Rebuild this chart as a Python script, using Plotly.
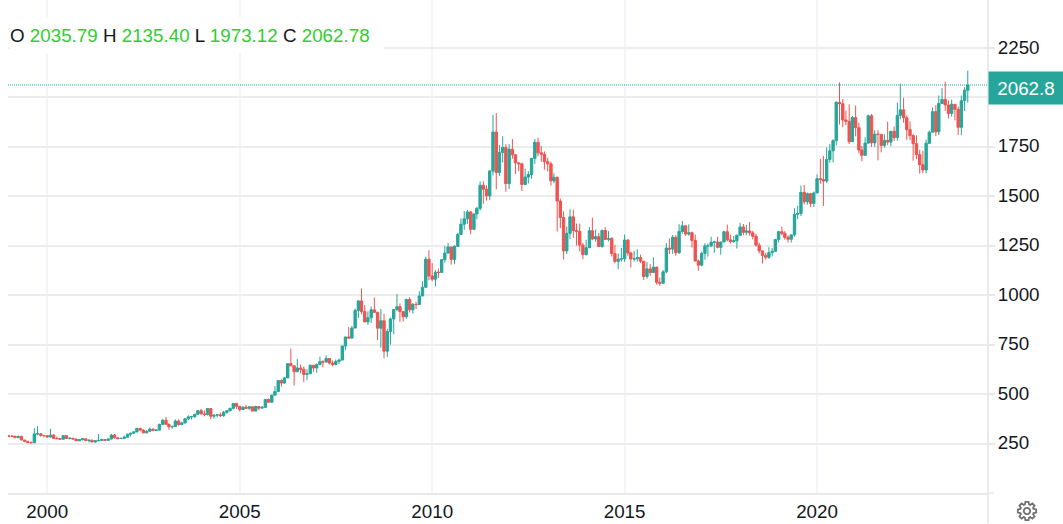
import math
import pandas as pd
import plotly.graph_objects as go

closes = [
287,287,280,286,268,261,255,254,299,299,291,290,
283,293,276,275,272,290,276,277,273,264,269,274,
265,267,258,264,266,270,266,273,293,279,275,276,
282,297,302,309,327,318,304,312,323,317,318,347,
368,347,335,336,364,346,354,375,385,386,398,416,
400,397,427,388,394,395,391,408,416,428,453,438,
422,434,428,436,414,437,429,433,473,459,495,513,
569,556,582,654,643,613,632,625,599,603,646,632,
650,664,662,680,657,650,665,672,743,789,783,834,
923,971,917,865,886,926,913,833,871,717,816,880,
927,942,917,891,978,926,954,953,996,1040,1182,1097,
1081,1116,1115,1180,1213,1244,1181,1247,1307,1359,1386,1421,
1333,1411,1439,1556,1536,1502,1628,1825,1620,1722,1747,1564,
1738,1710,1669,1664,1560,1597,1610,1692,1773,1720,1713,1675,
1664,1578,1596,1476,1393,1224,1313,1396,1327,1323,1253,1205,
1240,1326,1284,1296,1246,1327,1282,1287,1210,1171,1182,1184,
1279,1213,1183,1184,1190,1172,1095,1133,1115,1142,1065,1060,
1118,1238,1233,1293,1215,1322,1351,1309,1316,1277,1173,1152,
1211,1249,1249,1268,1269,1242,1269,1321,1280,1271,1275,1303,
1345,1318,1325,1315,1298,1253,1224,1201,1192,1215,1222,1282,
1321,1313,1292,1283,1305,1409,1413,1520,1472,1513,1464,1517,
1589,1585,1577,1686,1730,1781,1975,1968,1886,1879,1776,1898,
1847,1734,1707,1769,1907,1770,1814,1813,1757,1783,1774,1829,
1797,1909,1937,1897,1837,1807,1766,1711,1660,1633,1768,1824,
1928,1826,1969,1990,1962,1919,1965,1940,1849,1983,2036,2062.78,
]
opens = [
288,287,287,280,286,268,261,255,254,299,299,291,
290,283,293,276,275,272,290,276,277,273,264,269,
274,265,267,258,264,266,270,266,273,293,279,275,
276,282,297,302,309,327,318,304,312,323,317,318,
347,368,347,335,336,364,346,354,375,385,386,398,
416,400,397,427,388,394,395,391,408,416,428,453,
438,422,434,428,436,414,437,429,433,473,459,495,
513,569,556,582,654,643,613,632,625,599,603,646,
632,650,664,662,680,657,650,665,672,743,789,783,
834,923,971,917,865,886,926,913,833,871,717,816,
880,927,942,917,891,978,926,954,953,996,1040,1182,
1097,1081,1116,1115,1180,1213,1244,1181,1247,1307,1359,1386,
1421,1333,1411,1439,1556,1536,1502,1628,1825,1620,1722,1747,
1564,1738,1710,1669,1664,1560,1597,1610,1692,1773,1720,1713,
1675,1664,1578,1596,1476,1393,1224,1313,1396,1327,1323,1253,
1205,1240,1326,1284,1296,1246,1327,1282,1287,1210,1171,1182,
1184,1279,1213,1183,1184,1190,1172,1095,1133,1115,1142,1065,
1060,1118,1238,1233,1293,1215,1322,1351,1309,1316,1277,1173,
1152,1211,1249,1249,1268,1269,1242,1269,1321,1280,1271,1275,
1303,1345,1318,1325,1315,1298,1253,1224,1201,1192,1215,1222,
1282,1321,1313,1292,1283,1305,1409,1413,1520,1472,1513,1464,
1517,1589,1585,1577,1686,1730,1781,1975,1968,1886,1879,1776,
1898,1847,1734,1707,1769,1907,1770,1814,1813,1757,1783,1774,
1829,1797,1909,1937,1897,1837,1807,1766,1711,1660,1633,1768,
1824,1928,1826,1969,1990,1962,1919,1965,1940,1849,1983,2035.79,
]
highs = [
293,291,289,291,290,268,263,260,328,338,303,293,
292,325,296,286,277,293,292,279,278,274,271,276,
274,270,270,266,298,275,273,276,299,298,282,280,
290,300,304,312,327,329,322,318,331,326,323,350,
372,385,352,341,372,372,360,380,393,390,400,417,
425,417,430,427,395,399,407,415,419,431,455,456,
428,438,445,438,436,441,435,440,473,478,496,540,
570,574,585,655,730,633,677,650,640,625,650,640,
655,690,672,696,683,670,675,680,745,790,840,845,
932,975,1033,950,918,943,988,917,930,905,830,887,
930,1005,958,920,983,990,960,967,1019,1070,1195,1227,
1162,1127,1135,1180,1249,1265,1245,1253,1315,1388,1425,1431,
1425,1412,1447,1575,1576,1555,1632,1912,1921,1760,1804,1764,
1764,1790,1712,1670,1670,1640,1627,1693,1790,1796,1755,1727,
1695,1675,1616,1600,1488,1424,1347,1434,1433,1362,1362,1265,
1280,1345,1392,1332,1315,1332,1345,1324,1293,1255,1211,1239,
1307,1282,1220,1224,1232,1205,1173,1169,1157,1191,1144,1089,
1127,1263,1287,1304,1304,1359,1375,1352,1358,1322,1306,1180,
1220,1263,1261,1295,1275,1296,1270,1326,1357,1306,1299,1307,
1366,1360,1355,1370,1326,1310,1266,1220,1214,1243,1239,1284,
1326,1347,1324,1303,1306,1439,1452,1555,1557,1519,1517,1524,
1611,1689,1704,1747,1765,1789,1981,2075,1992,1933,1965,1906,
1959,1872,1755,1798,1913,1916,1834,1834,1808,1814,1877,1830,
1853,1974,2070,1998,1909,1879,1814,1808,1735,1730,1786,1833,
1949,1960,2010,2048,2079,1984,1988,1949,1953,2009,2052,2135.40,
]
lows = [
283,283,277,278,267,257,253,251,253,292,285,282,
280,282,276,272,270,272,274,271,271,263,262,267,
262,255,256,254,262,265,264,265,270,275,272,273,
275,280,286,299,307,312,302,302,312,312,312,317,
342,345,320,325,336,340,342,352,369,372,379,396,
399,388,392,372,375,382,385,385,400,412,422,425,
412,420,425,420,414,414,419,430,431,456,456,490,
512,538,552,582,640,543,612,605,560,570,603,613,
608,645,635,660,650,640,645,652,670,722,780,782,
834,885,903,865,850,860,910,773,735,681,688,750,
803,922,865,867,880,912,907,930,950,1000,1040,1075,
1070,1045,1087,1115,1165,1215,1155,1157,1245,1316,1330,1360,
1309,1330,1383,1428,1462,1478,1480,1605,1535,1603,1670,1523,
1537,1690,1613,1627,1527,1563,1564,1589,1664,1703,1675,1635,
1626,1554,1566,1322,1339,1180,1208,1284,1290,1251,1221,1182,
1202,1238,1278,1270,1243,1240,1281,1272,1196,1161,1131,1170,
1168,1199,1140,1170,1170,1162,1077,1083,1098,1111,1053,1047,
1061,1111,1208,1209,1199,1208,1311,1300,1301,1241,1171,1124,
1146,1180,1195,1244,1214,1237,1205,1267,1272,1262,1265,1236,
1303,1303,1303,1301,1282,1245,1211,1160,1181,1183,1196,1221,
1266,1303,1281,1266,1266,1296,1385,1400,1459,1458,1445,1446,
1517,1563,1451,1567,1670,1671,1757,1863,1849,1860,1764,1775,
1803,1717,1677,1705,1766,1750,1750,1682,1722,1746,1759,1753,
1780,1781,1890,1872,1786,1784,1680,1688,1615,1617,1616,1766,
1824,1804,1810,1970,1932,1893,1903,1884,1810,1809,1931,1973.12,
]
dates = pd.date_range("1999-01-01", periods=len(closes), freq="MS")

y_ticks = [250, 500, 750, 1000, 1250, 1500, 1750, 2000, 2250]
y_tick_labels = ["250", "500", "750", "1000", "1250", "1500", "1750", "", "2250"]
x_tick_dates = ["2000-01-01", "2005-01-01", "2010-01-01", "2015-01-01", "2020-01-01"]
x_tick_labels = ["2000", "2005", "2010", "2015", "2020"]
last_price = 2062.78
last_label = "2062.8"
ohlc_labels = ["O", "H", "L", "C"]
ohlc_values = ["2035.79", "2135.40", "1973.12", "2062.78"]

UP, DOWN = "#26a69a", "#ef5350"
W, H = 1063, 524
L_PX, R_PX, B_PX = 8, 988.5, 493.5
TEXT = "#131722"
FONT = "Liberation Sans, Arial, sans-serif"
FS = 18.8

fig = go.Figure(go.Candlestick(
    x=dates, open=opens, high=highs, low=lows, close=closes,
    increasing=dict(line=dict(color=UP, width=1), fillcolor=UP),
    decreasing=dict(line=dict(color=DOWN, width=1), fillcolor=DOWN),
    whiskerwidth=0,
))

def px(x):
    return (x - L_PX) / (R_PX - L_PX)

def py(y):
    return 1 - y / B_PX

# gear icon outline (chrome, not data)
cx, cy, teeth = 1027.5, 511.5, 8
pts = []
for i in range(teeth):
    a = 2 * math.pi * i / teeth
    for da, r in [(-0.30, 6.9), (-0.17, 9.3), (0.17, 9.3), (0.30, 6.9)]:
        pts.append((cx + r * math.cos(a + da), cy + r * math.sin(a + da)))
gear = "M " + " L ".join(f"{px(x):.5f},{py(y):.5f}" for x, y in pts) + " Z"
hub = []
for i in range(24):
    a = 2 * math.pi * i / 24
    hub.append((cx + 3.2 * math.cos(a), cy + 3.2 * math.sin(a)))
hub_path = "M " + " L ".join(f"{px(x):.5f},{py(y):.5f}" for x, y in hub) + " Z"

shapes = [
    dict(type="line", xref="paper", yref="y", x0=0, x1=1, y0=last_price, y1=last_price,
         line=dict(color="#1aa89c", width=1, dash="1px,1px")),
    dict(type="line", xref="paper", yref="paper", x0=1, x1=1, y0=py(H), y1=1,
         line=dict(color="#e0e3eb", width=1.5)),
    dict(type="line", xref="paper", yref="paper", x0=1, x1=px(994), y0=0, y1=0,
         line=dict(color="#e8e8e8", width=1.5)),
    dict(type="path", xref="paper", yref="paper", path=gear, line=dict(color="#707070", width=1.8)),
    dict(type="path", xref="paper", yref="paper", path=hub_path, line=dict(color="#707070", width=1.8)),
]

green = "#32cd32"
legend_html = " ".join(
    f'<span style="color:{TEXT}">{a}</span> <span style="color:{green}">{b}</span>'
    for a, b in zip(ohlc_labels, ohlc_values)
)

fig.update_layout(
    width=W, height=H,
    margin=dict(l=L_PX, r=W - R_PX, t=0, b=H - B_PX, pad=0, autoexpand=False),
    paper_bgcolor="white", plot_bgcolor="white",
    showlegend=False, boxgap=0.2, boxgroupgap=0,
    font=dict(family=FONT, size=FS, color=TEXT),
    shapes=shapes,
    xaxis=dict(
        type="date", range=["1998-12-25", "2024-06-10"], rangeslider=dict(visible=False),
        tickmode="array", tickvals=x_tick_dates, ticktext=x_tick_labels, automargin=False,
        showgrid=True, gridcolor="#f3f5fa", gridwidth=1.8,
        showline=True, linecolor="#e8e8e8", linewidth=1.5,
        ticks="", ticklabelstandoff=1, zeroline=False,
    ),
    yaxis=dict(
        side="right", range=[0, B_PX / 0.198], automargin=False,
        tickmode="array", tickvals=y_ticks, ticktext=y_tick_labels,
        showgrid=True, gridcolor="#ececec", gridwidth=1.5,
        showline=False, ticks="outside", ticklen=6, tickcolor="#e8e8e8", tickwidth=1.5,
        ticklabelstandoff=-1, ticklabelshift=-1, zeroline=False,
    ),
    annotations=[
        dict(xref="paper", yref="paper", x=0, y=py(35), xanchor="left", yanchor="middle",
             text=legend_html, showarrow=False, align="left",
             width=373, height=35, bgcolor="white", borderpad=0, yshift=-1, xshift=0.5,
             font=dict(size=FS, family=FONT)),
        dict(xref="paper", yref="y", x=1, y=last_price, xanchor="left", yanchor="middle",
             text=last_label, showarrow=False, yshift=-3, width=74, height=32,
             bgcolor=UP, borderpad=0, font=dict(color="white", size=FS, family=FONT)),
    ],
)

fig.write_html("out.html", config=dict(displayModeBar=False),
               post_script="document.body.style.margin='0';")
